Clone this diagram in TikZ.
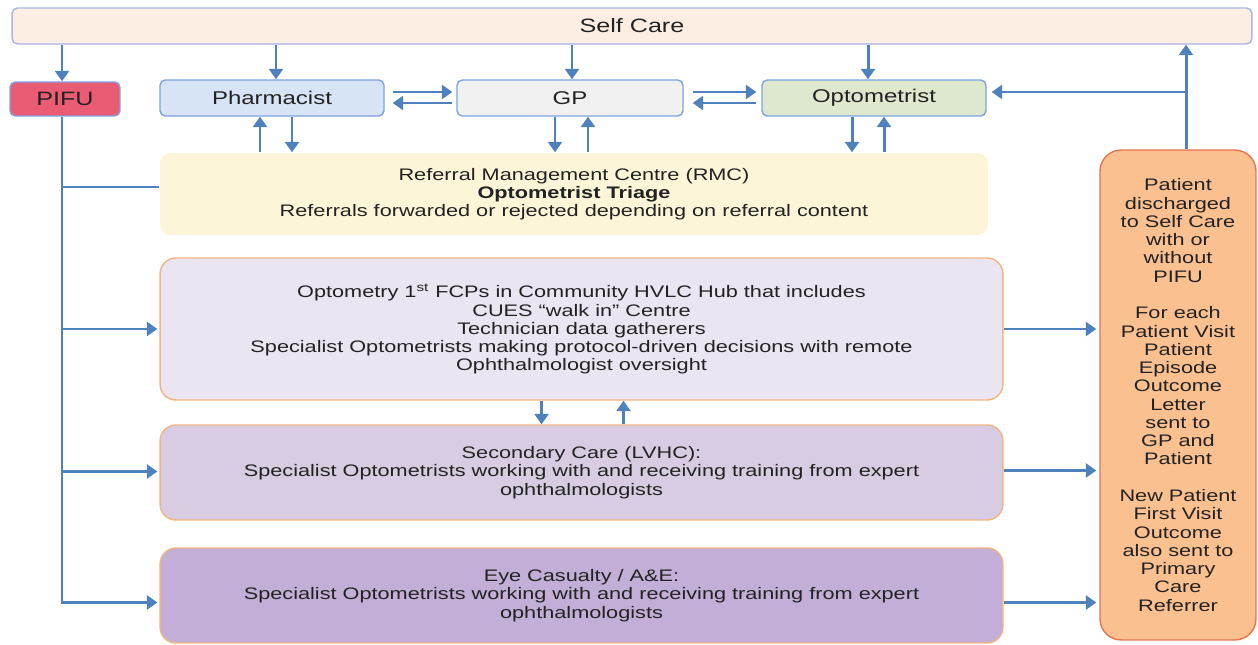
\documentclass[tikz,border=0pt]{standalone}
\usepackage{fontspec}
\setmainfont{Liberation Sans}[FakeStretch=1.3]
\usetikzlibrary{arrows.meta,calc}

\definecolor{linkblue}{HTML}{4F81BD}
\definecolor{textgrey}{HTML}{222222}
\definecolor{boxline}{HTML}{7DA3DE}
\definecolor{selfline}{HTML}{A9B3E6}
\definecolor{selffill}{HTML}{FDEEE3}
\definecolor{pifufill}{HTML}{EA5B74}
\definecolor{pharmfill}{HTML}{D6E4F5}
\definecolor{gpfill}{HTML}{F1F1F1}
\definecolor{optofill}{HTML}{DEE8CF}
\definecolor{rmcfill}{HTML}{FCF5D7}
\definecolor{boxorange}{HTML}{F2B482}
\definecolor{fcpfill}{HTML}{EBE4F1}
\definecolor{lvhcfill}{HTML}{D8CCE2}
\definecolor{eyefill}{HTML}{C2AED6}
\definecolor{disfill}{HTML}{FAC090}
\definecolor{disline}{HTML}{E8734E}

\tikzset{
    box/.style={rounded corners=3pt, inner sep=0pt, align=center, text=textgrey, line width=0.8pt},
    topbox/.style={box, draw=boxline, minimum width=4.48cm, minimum height=0.72cm, font=\fontsize{10.5}{12}\selectfont},
    bigbox/.style={box, draw=boxorange, rounded corners=9pt, minimum width=16.86cm, minimum height=1.9cm, font=\fontsize{9.5}{10.4}\selectfont},
    link/.style={draw=linkblue, line width=1.7pt},
}

\begin{document}
\begin{tikzpicture}[x=0.02cm, y=-0.02cm, >={Triangle[length=6pt,width=8pt]}]
        \useasboundingbox (0,0) rectangle (1258,645);

        \node[box, draw=selfline, fill=selffill, minimum width=24.8cm, minimum height=0.72cm, font=\fontsize{11}{12}\selectfont] (self) at (632,26) {Self Care};
        \node[box, draw=boxline, fill=pifufill, minimum width=2.2cm, minimum height=0.68cm, font=\fontsize{11}{12}\selectfont] (pifu) at (65,99) {PIFU};
        \node[topbox, fill=pharmfill] (pharm) at (272,98) {Pharmacist};
        \node[topbox, fill=gpfill, minimum width=4.52cm] (gp) at (570,98) {GP};
        \node[topbox, fill=optofill] (opto) at (874,98) {Optometrist};

        \node[bigbox, draw=none, fill=rmcfill, rounded corners=6pt, minimum width=16.56cm, minimum height=1.64cm] (rmc) at (574,194)
            {Referral Management Centre (RMC)\\\textbf{Optometrist Triage}\\Referrals forwarded or rejected depending on referral content};
        \node[bigbox, fill=fcpfill, minimum height=2.84cm] (fcp) at (581.5,329)
            {Optometry 1\textsuperscript{st} FCPs in Community HVLC Hub that includes\\CUES “walk in” Centre\\Technician data gatherers\\Specialist Optometrists making protocol-driven decisions with remote\\Ophthalmologist oversight};
        \node[bigbox, fill=lvhcfill] (lvhc) at (581.5,472.5)
            {Secondary Care (LVHC):\\Specialist Optometrists working with and receiving training from expert\\ophthalmologists};
        \node[bigbox, fill=eyefill] (eye) at (581.5,595.5)
            {Eye Casualty / A\&E:\\Specialist Optometrists working with and receiving training from expert\\ophthalmologists};
        \node[box, draw=disline, fill=disfill, rounded corners=12pt, minimum width=3.12cm, minimum height=9.8cm, font=\fontsize{9.5}{10.4}\selectfont] (dis) at (1178,395)
            {Patient\\discharged\\to Self Care\\with or\\without\\PIFU\\[10.4pt]For each\\Patient Visit\\Patient\\Episode\\Outcome\\Letter\\sent to\\GP and\\Patient\\[10.4pt]New Patient\\First Visit\\Outcome\\also sent to\\Primary\\Care\\Referrer};

        \draw[link,->] ($(self.south -| pifu)+(-3,0)$) -- ($(pifu.north)+(-3,0)$);
        \draw[link,->] ($(self.south -| pharm)+(4,0)$) -- ($(pharm.north)+(4,0)$);
        \draw[link,->] ($(self.south -| gp)+(2,0)$) -- ($(gp.north)+(2,0)$);
        \draw[link,->] ($(self.south -| opto)+(-6,0)$) -- ($(opto.north)+(-6,0)$);

        \draw[link,->] ($(pharm.east)+(8,-6)$) -- ($(gp.west)+(-4,-6)$);
        \draw[link,->] ($(gp.west)+(-4,5)$) -- ($(pharm.east)+(8,5)$);
        \draw[link,->] ($(gp.east)+(9,-6)$) -- ($(opto.west)+(-5,-6)$);
        \draw[link,->] ($(opto.west)+(-5,5)$) -- ($(gp.east)+(9,5)$);

        \draw[link,->] ($(rmc.north -| pharm)+(-12,0)$) -- ($(pharm.south)+(-12,0)$);
        \draw[link,->] ($(pharm.south)+(20,0)$) -- ($(rmc.north -| pharm)+(20,0)$);
        \draw[link,->] ($(gp.south)+(-15,0)$) -- ($(rmc.north -| gp)+(-15,0)$);
        \draw[link,->] ($(rmc.north -| gp)+(18,0)$) -- ($(gp.south)+(18,0)$);
        \draw[link,->] ($(opto.south)+(-22,0)$) -- ($(rmc.north -| opto)+(-22,0)$);
        \draw[link,->] ($(rmc.north -| opto)+(10,0)$) -- ($(opto.south)+(10,0)$);

        \draw[link,->] ($(fcp.south)+(-40,0)$) -- ($(lvhc.north -| fcp)+(-40,0)$);
        \draw[link,->] ($(lvhc.north -| fcp)+(42,0)$) -- ($(fcp.south)+(42,0)$);

        \draw[link,->] ($(pifu.south)+(-3,0)$) |- ($(eye.west)+(-2,7)$);
        \draw[link] ($(pifu.south |- rmc.west)+(-3,-7)$) -- ($(rmc.west)+(0,-7)$);
        \draw[link,->] ($(pifu.south |- fcp.west)+(-3,0)$) -- ($(fcp.west)+(-2,0)$);
        \draw[link,->] ($(pifu.south |- lvhc.west)+(-3,-1)$) -- ($(lvhc.west)+(-2,-1)$);

        \draw[link,->] (fcp.east) -- ($(fcp.east -| dis.west)+(-3,0)$);
        \draw[link,->] ($(lvhc.east)+(0,-2)$) -- ($(lvhc.east -| dis.west)+(-3,-2)$);
        \draw[link,->] ($(eye.east)+(0,7)$) -- ($(eye.east -| dis.west)+(-3,7)$);

        \draw[link,->] ($(dis.north)+(8,0)$) -- ($(self.south -| dis)+(8,0)$);
        \draw[link,->] ($(dis.north |- opto.east)+(8,-6)$) -- ($(opto.east)+(5,-6)$);

    \end{tikzpicture}
\end{document}
